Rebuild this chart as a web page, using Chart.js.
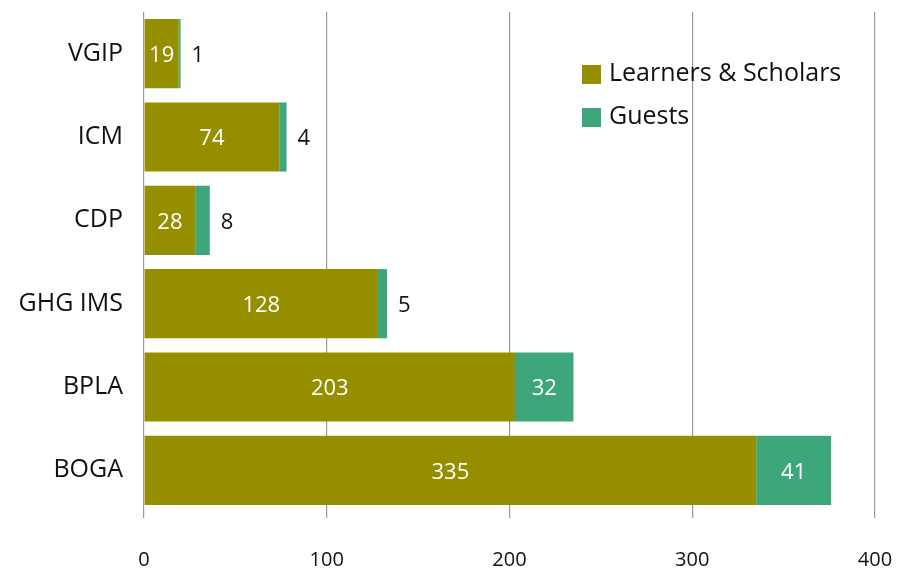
<!DOCTYPE html>
<html>
<head>
<meta charset="utf-8">
<script src="https://cdn.jsdelivr.net/npm/chart.js@4"></script>
<style>
  html, body { margin: 0; padding: 0; background: #fff; }
  #wrap { width: 898px; height: 575px; }
</style>
</head>
<body>
<div id="wrap"><canvas id="chart" width="898" height="575"></canvas></div>
<script>
// data
const programmes = ['VGIP', 'ICM', 'CDP', 'GHG IMS', 'BPLA', 'BOGA'];
const learners = [19, 74, 28, 128, 203, 335];
const guests = [1, 4, 8, 5, 32, 41];
const xTicks = [0, 100, 200, 300, 400];

const OLIVE = '#958f00';
const GREEN = '#3da67a';
const FONT = '"Open Sans", Lato, sans-serif';

// value labels on the bars: white inside, dark to the right when the bar is too thin
const barLabels = {
    id: 'barLabels',
    afterDatasetsDraw(chart) {
        const ctx = chart.ctx;
        ctx.save();
        ctx.font = '22px ' + FONT;
        ctx.textBaseline = 'middle';
        chart.data.datasets.forEach((ds, di) => {
            const meta = chart.getDatasetMeta(di);
            meta.data.forEach((bar, i) => {
                const v = ds.data[i];
                const w = Math.abs(bar.x - bar.base);
                if (w > 30) {
                    ctx.fillStyle = '#fff';
                    ctx.textAlign = 'center';
                    ctx.fillText(v, (bar.x + bar.base) / 2, bar.y + 2);
                } else {
                    ctx.fillStyle = '#111';
                    ctx.textAlign = 'left';
                    ctx.fillText(v, bar.x + 11, bar.y + 2);
                }
            });
        });
        ctx.restore();
    }
};

// legend drawn inside the plot, top right
const innerLegend = {
    id: 'innerLegend',
    afterDraw(chart) {
        const ctx = chart.ctx;
        const x = 582, y0 = 74, gap = 43;
        ctx.save();
        ctx.font = '25px ' + FONT;
        ctx.textBaseline = 'middle';
        ctx.textAlign = 'left';
        chart.data.datasets.forEach((ds, i) => {
            const y = y0 + i * gap;
            ctx.fillStyle = ds.backgroundColor;
            ctx.fillRect(x, y - 9, 19, 19);
            ctx.fillStyle = '#111';
            ctx.fillText(ds.label, x + 27, y);
        });
        ctx.restore();
    }
};

new Chart(document.getElementById('chart'), {
    type: 'bar',
    data: {
        labels: programmes,
        datasets: [
            { label: 'Learners & Scholars', data: learners, backgroundColor: OLIVE },
            { label: 'Guests', data: guests, backgroundColor: GREEN }
        ]
    },
    options: {
        indexAxis: 'y',
        responsive: false,
        animation: false,
        layout: { padding: { top: 12, right: 23, left: 0, bottom: 0 } },
        datasets: { bar: { categoryPercentage: 0.83, barPercentage: 1 } },
        plugins: {
            legend: { display: false },
            tooltip: { enabled: false }
        },
        scales: {
            x: {
                stacked: true,
                min: 0,
                max: 400,
                afterBuildTicks(scale) { scale.ticks = xTicks.map(v => ({ value: v })); },
                afterFit(scale) {
                    scale.height = 63;
                    scale.paddingLeft = 0;
                    scale.paddingRight = 0;
                },
                grid: { color: '#999', lineWidth: 1.2, drawTicks: true, tickLength: 6 },
                border: { display: false },
                ticks: { color: '#111', padding: 30, font: { family: FONT, size: 20 } }
            },
            y: {
                stacked: true,
                afterFit(scale) {
                    scale.width = 144;
                    scale.paddingTop = 0;
                    scale.paddingBottom = 0;
                },
                grid: { display: false },
                border: { display: false },
                ticks: { color: '#111', padding: 13, font: { family: FONT, size: 25 } }
            }
        }
    },
    plugins: [barLabels, innerLegend]
});
</script>
</body>
</html>
